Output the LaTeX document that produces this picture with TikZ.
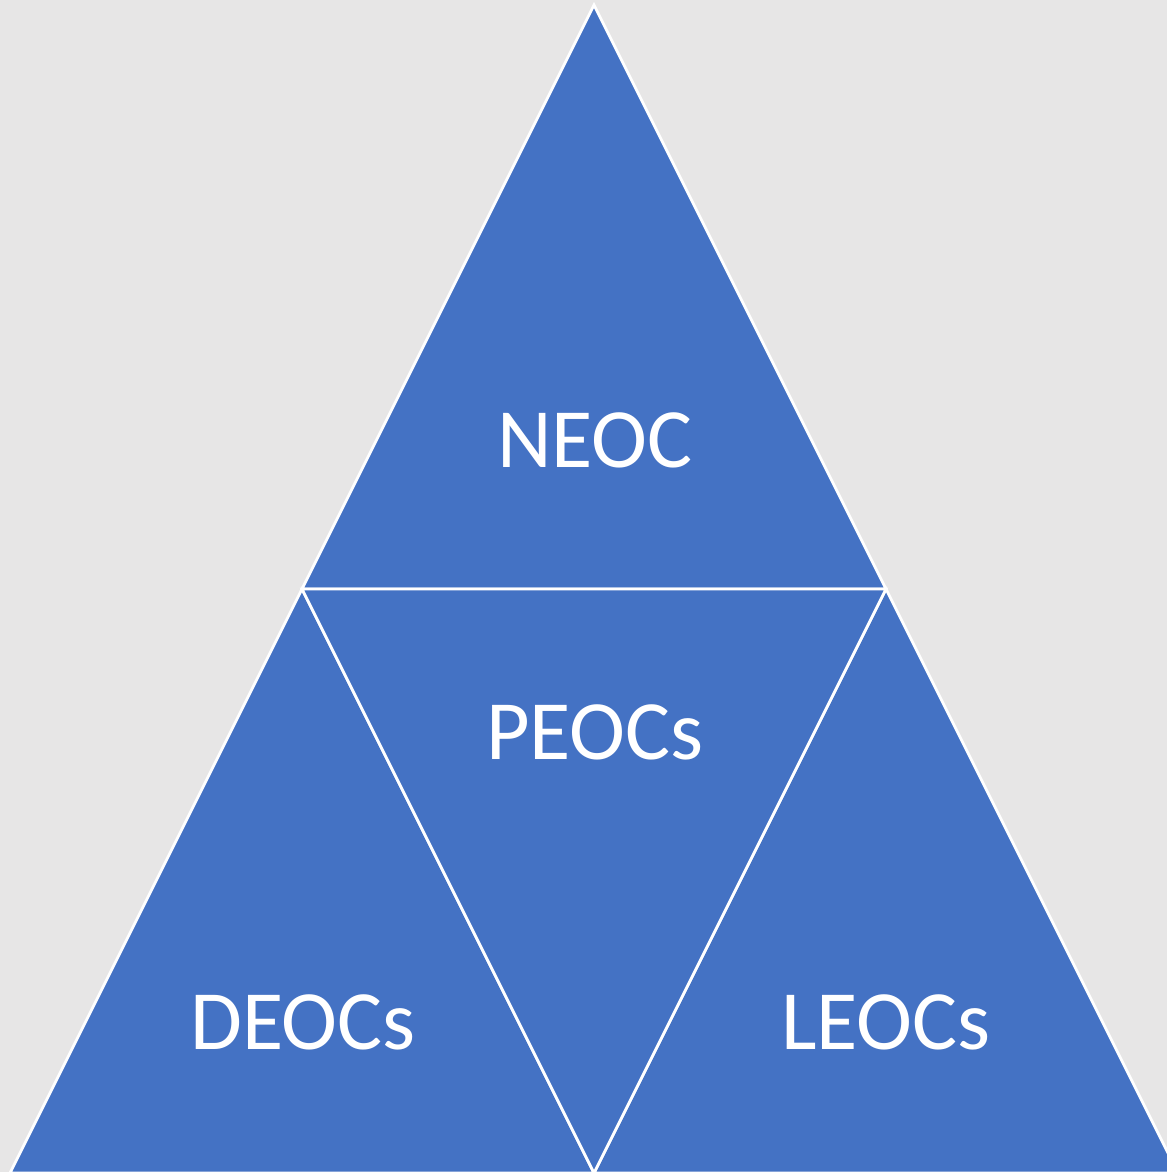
\documentclass[tikz,border=0pt]{standalone}
\usepackage{fontspec}
\setmainfont{Carlito}
\usetikzlibrary{calc}
\definecolor{slidegray}{HTML}{E7E6E6}
\definecolor{tierblue}{HTML}{4472C4}
\tikzstyle{tier}=[fill=tierblue, draw=white, line width=0.8pt, line join=miter]
\tikzstyle{tierlabel}=[text=white, font=\fontsize{24}{29}\selectfont]
\begin{document}
\begin{tikzpicture}[x=0.01cm,y=-0.01cm]
	\useasboundingbox (0,0) rectangle (1167,1172);
	\clip (0,0) rectangle (1167,1172);
	\fill[slidegray] (0,0) rectangle (1167,1172);
	% corners of the tiers
	\coordinate (top) at (594,5);
	\coordinate (ml) at (302,589);
	\coordinate (mr) at (886,589);
	\coordinate (bl) at (10,1173);
	\coordinate (bm) at (594,1173);
	\coordinate (br) at (1178,1173);
	\draw[tier] (top) -- (mr) -- (ml) -- cycle;
	\draw[tier] (ml) -- (bm) -- (bl) -- cycle;
	\draw[tier] (mr) -- (br) -- (bm) -- cycle;
	\draw[tier] (ml) -- (mr) -- (bm) -- cycle;
	\node[tierlabel] (neoc) at (595,440) {NEOC};
	\node[tierlabel] (peocs) at (595,732) {PEOCs};
	\node[tierlabel] (deocs) at (303,1022) {DEOCs};
	\node[tierlabel] (leocs) at (886,1022) {LEOCs};
\end{tikzpicture}
\end{document}
